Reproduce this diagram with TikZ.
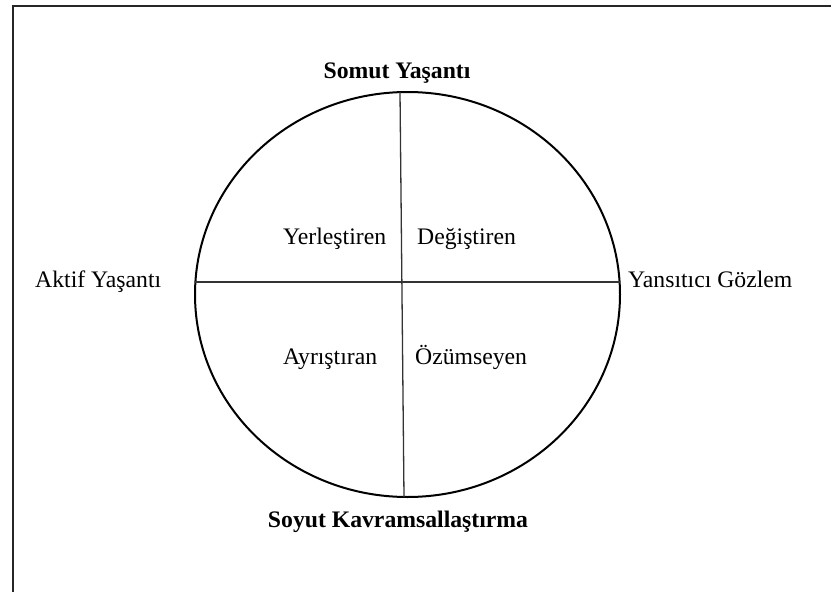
\documentclass[tikz,border=0pt]{standalone}
\usepackage{fontspec}
\setmainfont{Liberation Serif}
\usetikzlibrary{shapes.geometric}
\tikzset{
  lbl/.style={inner sep=0pt, font=\fontsize{23.7}{28}\selectfont},
  hlbl/.style={lbl, font=\fontsize{23.7}{28}\selectfont\bfseries},
  frame/.style={line width=2.5pt, draw=black!85},
  ring/.style={draw, line width=2pt, ellipse, inner sep=0pt, minimum width=425pt, minimum height=405pt},
  axis/.style={line width=1.3pt, draw=black!80}
}
\begin{document}
\begin{tikzpicture}[x=1pt,y=-1pt]
\useasboundingbox (0,0) rectangle (831,592);
\coordinate (ftr) at (831,6);
\coordinate (ftl) at (13,6);
\coordinate (fbl) at (13,592);
\draw[frame] (ftr) -- (ftl) -- (fbl);
\node[ring] (C) at (407.5,294.5) {};
\coordinate (vt) at (400,92);
\coordinate (vb) at (404,497);
\coordinate (hl) at (195,282);
\coordinate (hr) at (620,282);
\draw[axis] (vt) -- (vb);
\draw[axis] (hl) -- (hr);
\node[hlbl, anchor=base] (somut) at (397,78) {Somut Yaşantı};
\node[hlbl, anchor=base] (soyut) at (398,527) {Soyut Kavramsallaştırma};
\node[lbl, anchor=base west] (aktif) at (35,287) {Aktif Yaşantı};
\node[lbl, anchor=base west] (yans) at (628,287) {Yansıtıcı Gözlem};
\node[lbl, anchor=base west] (yer) at (283,244) {Yerleştiren};
\node[lbl, anchor=base west] (deg) at (417,244) {Değiştiren};
\node[lbl, anchor=base west] (ayr) at (283,364) {Ayrıştıran};
\node[lbl, anchor=base west] (ozu) at (415,364) {Özümseyen};
\end{tikzpicture}
\end{document}
